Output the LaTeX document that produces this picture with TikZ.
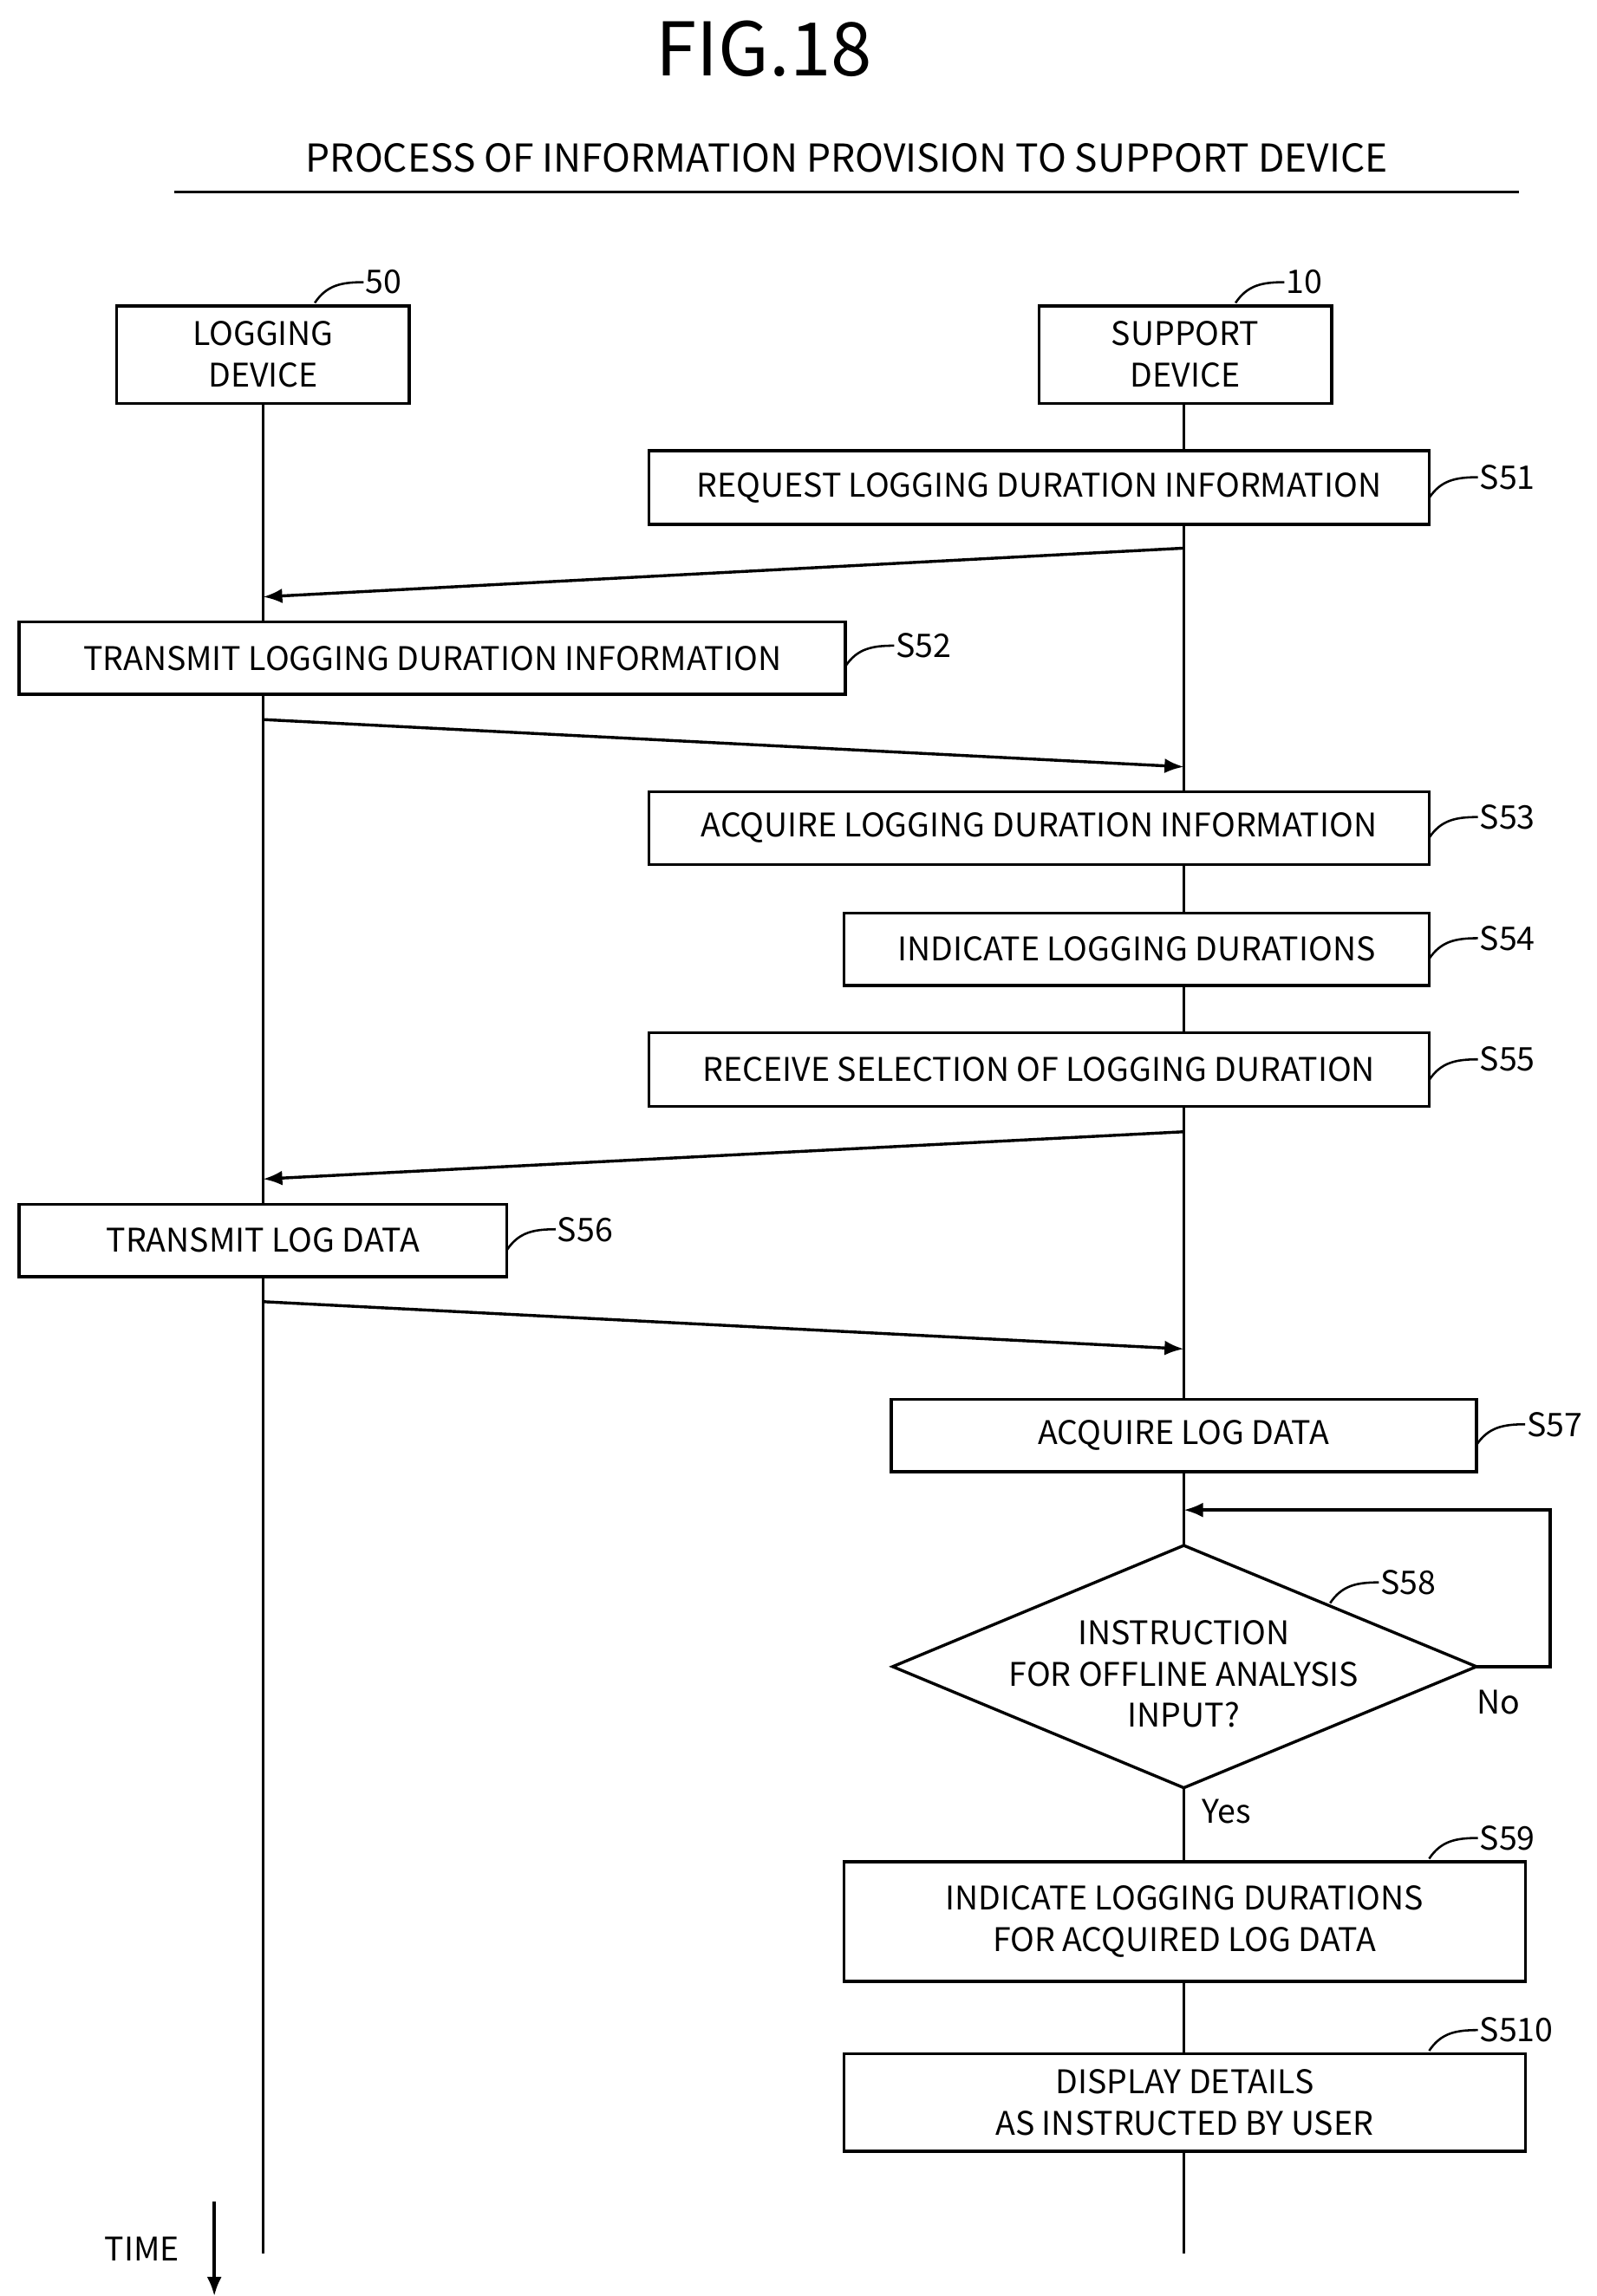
\documentclass[tikz,border=0pt]{standalone}
\usepackage{fontspec}
\setmainfont{Noto Sans CJK JP}
\usetikzlibrary{arrows.meta}
\begin{document}
\begin{tikzpicture}[x=1pt,y=-1pt,
  box/.style={draw,line width=2pt,fill=white,inner sep=0pt,align=center,font=\fontsize{22}{28}\selectfont},
  lbl/.style={anchor=west,inner sep=1pt,font=\fontsize{22}{26}\selectfont},
  lead/.style={line width=1.5pt},
  line/.style={line width=2pt},
  arr/.style={line width=2pt,-{Latex[length=13pt,width=10pt]}}]
\useasboundingbox (0,0) rectangle (1080,1554);
\node[font=\fontsize{50}{56}\selectfont] (fig) at (517,33) {FIG.18};
\node[font=\fontsize{26}{30}\selectfont] (ttl) at (573,107) {PROCESS OF INFORMATION PROVISION TO SUPPORT DEVICE};
\coordinate (u1) at (118,130); \coordinate (u2) at (1028,130);
\draw[line width=1.5pt] (u1) -- (u2);
% lifelines
\coordinate (lb) at (178,1525); \coordinate (rb) at (801,1525);
\coordinate (lt) at (178,273); \coordinate (rt) at (801,273);
\draw[line] (lt) -- (lb);
\draw[line] (rt) -- (rb);
\node[box,minimum width=198pt,minimum height=66pt] (ld) at (178,240) {LOGGING\\DEVICE};
\node[box,minimum width=198pt,minimum height=66pt] (sd) at (802,240) {SUPPORT\\DEVICE};
\node[box,minimum width=528pt,minimum height=50pt] (s51) at (703,330) {REQUEST LOGGING DURATION INFORMATION};
\node[box,minimum width=559pt,minimum height=49pt] (s52) at (292.5,445.5) {TRANSMIT LOGGING DURATION INFORMATION};
\node[box,minimum width=528pt,minimum height=49pt] (s53) at (703,560.5) {ACQUIRE LOGGING DURATION INFORMATION};
\node[box,minimum width=396pt,minimum height=49pt] (s54) at (769,642.5) {INDICATE LOGGING DURATIONS};
\node[box,minimum width=528pt,minimum height=50pt] (s55) at (703,724) {RECEIVE SELECTION OF LOGGING DURATION};
\node[box,minimum width=330pt,minimum height=49pt] (s56) at (178,839.5) {TRANSMIT LOG DATA};
\node[box,minimum width=396pt,minimum height=49pt] (s57) at (801,971.5) {ACQUIRE LOG DATA};
\node[box,minimum width=461pt,minimum height=81pt] (s59) at (801.5,1300.5) {INDICATE LOGGING DURATIONS\\FOR ACQUIRED LOG DATA};
\node[box,minimum width=461pt,minimum height=66pt] (s510) at (801.5,1423) {DISPLAY DETAILS\\AS INSTRUCTED BY USER};
% diamond
\coordinate (dt) at (801,1046); \coordinate (dr) at (999,1128);
\coordinate (db) at (801,1210); \coordinate (dl) at (604,1128);
\draw[line,fill=white] (dt) -- (dr) -- (db) -- (dl) -- cycle;
\node[align=center,font=\fontsize{22}{28}\selectfont] (s58) at (801,1133) {INSTRUCTION\\FOR OFFLINE ANALYSIS\\INPUT?};
% messages
\coordinate (a1) at (801,371); \coordinate (a1e) at (178,404);
\coordinate (a2) at (178,487); \coordinate (a2e) at (801,519);
\coordinate (a3) at (801,766); \coordinate (a3e) at (178,798);
\coordinate (a4) at (178,881); \coordinate (a4e) at (801,913);
\draw[arr] (a1) -- (a1e);
\draw[arr] (a2) -- (a2e);
\draw[arr] (a3) -- (a3e);
\draw[arr] (a4) -- (a4e);
% loop
\coordinate (n1) at (1049,1128); \coordinate (n2) at (1049,1022); \coordinate (n3) at (801,1022);
\draw[arr] (dr) -- (n1) -- (n2) -- (n3);
\node[lbl] (no) at (998,1152) {No};
\node[lbl] (yes) at (812,1226) {Yes};
% time
\node[font=\fontsize{22}{26}\selectfont] (time) at (96,1522) {TIME};
\coordinate (t1) at (145,1490); \coordinate (t2) at (145,1554);
\draw[arr] (t1) -- (t2);
% leaders
\newcommand{\lead}[5]{\draw[lead] (#1,#2) .. controls (#1+8,#2-12) and (#1+18,#2-14) .. (#1+33,#2-14);
  \node[lbl] (#5) at (#1+33,#2-14) {#3#4};}
\lead{967}{337}{S5}{1}{l51}
\lead{572}{451}{S5}{2}{l52}
\lead{967}{567}{S5}{3}{l53}
\lead{967}{649}{S5}{4}{l54}
\lead{967}{731}{S5}{5}{l55}
\lead{343}{846}{S5}{6}{l56}
\lead{999}{978}{S5}{7}{l57}
\lead{900}{1085}{S5}{8}{l58}
\lead{967}{1258}{S5}{9}{l59}
\lead{967}{1388}{S51}{0}{l510}
\lead{213}{205}{5}{0}{l50}
\lead{836}{205}{1}{0}{l10}
\end{tikzpicture}
\end{document}
